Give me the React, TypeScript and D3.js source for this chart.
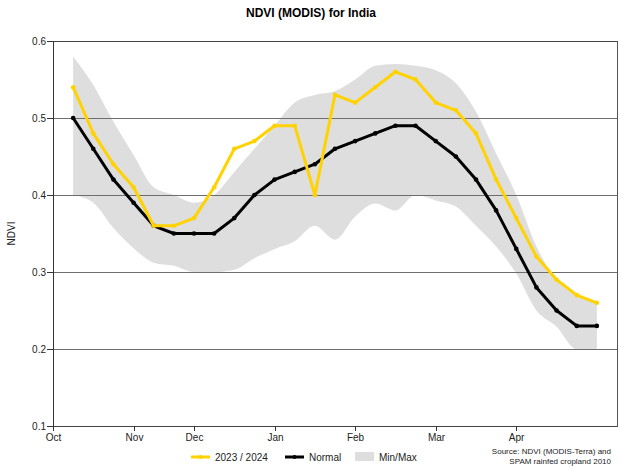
import React from "react";
import * as d3 from "d3";

// Dekads from early October to late April (index 0 .. 26)
const dekads: number[] = Array.from({ length: 27 }, (_, i) => i);

const current: number[] = [0.54, 0.48, 0.44, 0.41, 0.36, 0.36, 0.37, 0.41, 0.46, 0.47, 0.49, 0.49, 0.40, 0.53, 0.52, 0.54, 0.56, 0.55, 0.52, 0.51, 0.48, 0.42, 0.37, 0.32, 0.29, 0.27, 0.26];
const normal: number[] = [0.50, 0.46, 0.42, 0.39, 0.36, 0.35, 0.35, 0.35, 0.37, 0.40, 0.42, 0.43, 0.44, 0.46, 0.47, 0.48, 0.49, 0.49, 0.47, 0.45, 0.42, 0.38, 0.33, 0.28, 0.25, 0.23, 0.23];
const maxVals: number[] = [0.58, 0.543, 0.495, 0.452, 0.41, 0.40, 0.39, 0.40, 0.43, 0.46, 0.49, 0.52, 0.53, 0.535, 0.55, 0.568, 0.57, 0.568, 0.562, 0.545, 0.508, 0.454, 0.40, 0.333, 0.29, 0.27, 0.26];
const minVals: number[] = [0.40, 0.39, 0.357, 0.331, 0.312, 0.308, 0.30, 0.30, 0.303, 0.318, 0.33, 0.34, 0.36, 0.342, 0.372, 0.389, 0.38, 0.40, 0.393, 0.385, 0.36, 0.333, 0.298, 0.25, 0.229, 0.20, 0.20];

const monthLabels: string[] = ["Oct", "Nov", "Dec", "Jan", "Feb", "Mar", "Apr"];
const monthTickIndex: number[] = [-1, 3, 6, 10, 14, 18, 22];
const yTicks: number[] = [0.1, 0.2, 0.3, 0.4, 0.5, 0.6];

const W = 622;
const H = 469;
const left = 53;
const right = 617;
const top = 41;
const bottom = 426;

const YELLOW = "#FFD200";
const FONT = "'Liberation Sans', Arial, sans-serif";

export default function App() {
  const x = d3.scaleLinear().domain([-1, 27]).range([left, right]);
  const y = d3.scaleLinear().domain([0.1, 0.6]).range([bottom, top]);

  const band = d3
    .area<number>()
    .x((i) => x(i))
    .y0((i) => y(minVals[i]))
    .y1((i) => y(maxVals[i]))
    .curve(d3.curveMonotoneX)(dekads) as string;

  const lineGen = (vals: number[]) =>
    d3
      .line<number>()
      .x((i) => x(i))
      .y((i) => y(vals[i]))(dekads) as string;

  return (
    <svg
      width={W}
      height={H}
      style={{ position: "absolute", left: 0, top: 0, background: "#fff" }}
      fontFamily={FONT}
    >
      <rect x={0} y={0} width={W} height={H} fill="#fff" />
      <text x={311} y={17} textAnchor="middle" fontSize={12} fontWeight="bold" fill="#000">
        NDVI (MODIS) for India
      </text>

      <path d={band} fill="#dedede" stroke="none" />

      {yTicks.map((t) => (
        <g key={t}>
          <line x1={left} x2={right} y1={Math.round(y(t)) + 0.5} y2={Math.round(y(t)) + 0.5} stroke="#6e6e6e" strokeWidth={1} />
          <line x1={left - 6} x2={left} y1={Math.round(y(t)) + 0.5} y2={Math.round(y(t)) + 0.5} stroke="#333" strokeWidth={1} />
          <text x={left - 7} y={y(t) + 3.5} textAnchor="end" fontSize={10} fill="#222">
            {t.toFixed(1)}
          </text>
        </g>
      ))}

      <line x1={left + 0.5} x2={left + 0.5} y1={top} y2={bottom + 1} stroke="#333" />
      <line x1={right + 0.5} x2={right + 0.5} y1={top} y2={bottom + 1} stroke="#555" />
      <line x1={left} x2={right} y1={bottom + 0.5} y2={bottom + 0.5} stroke="#444" />
      <line x1={left} x2={right} y1={top + 0.5} y2={top + 0.5} stroke="#444" />

      {monthLabels.map((m, k) => {
        const px = Math.round(x(monthTickIndex[k])) + 0.5;
        return (
          <g key={m}>
            <line x1={px} x2={px} y1={bottom} y2={bottom + 5} stroke="#333" />
            <text x={px} y={441} textAnchor="middle" fontSize={10} fill="#222">
              {m}
            </text>
          </g>
        );
      })}

      <text
        transform={`translate(15,${(top + bottom) / 2}) rotate(-90)`}
        textAnchor="middle"
        fontSize={10}
        fill="#222"
      >
        NDVI
      </text>

      <path d={lineGen(normal)} fill="none" stroke="#000" strokeWidth={3} strokeLinejoin="round" />
      {dekads.map((i) => (
        <circle key={"n" + i} cx={x(i)} cy={y(normal[i])} r={2.3} fill="#000" />
      ))}
      <path d={lineGen(current)} fill="none" stroke={YELLOW} strokeWidth={3} strokeLinejoin="round" />
      {dekads.map((i) => (
        <circle key={"c" + i} cx={x(i)} cy={y(current[i])} r={2.3} fill={YELLOW} />
      ))}

      {/* Legend */}
      <g fontSize={10} fill="#222">
        <line x1={191} x2={210} y1={457} y2={457} stroke={YELLOW} strokeWidth={3} />
        <circle cx={200.5} cy={457} r={2} fill={YELLOW} />
        <text x={215} y={461}>2023 / 2024</text>
        <line x1={285} x2={304} y1={457} y2={457} stroke="#000" strokeWidth={3} />
        <circle cx={294.5} cy={457} r={2} fill="#000" />
        <text x={309} y={461}>Normal</text>
        <rect x={355} y={452} width={19} height={9} fill="#dedede" />
        <text x={379} y={461}>Min/Max</text>
      </g>

      <g fontSize={8} fill="#222" textAnchor="end">
        <text x={611} y={454}>Source: NDVI (MODIS-Terra) and</text>
        <text x={611} y={464}>SPAM rainfed cropland 2010</text>
      </g>
    </svg>
  );
}
